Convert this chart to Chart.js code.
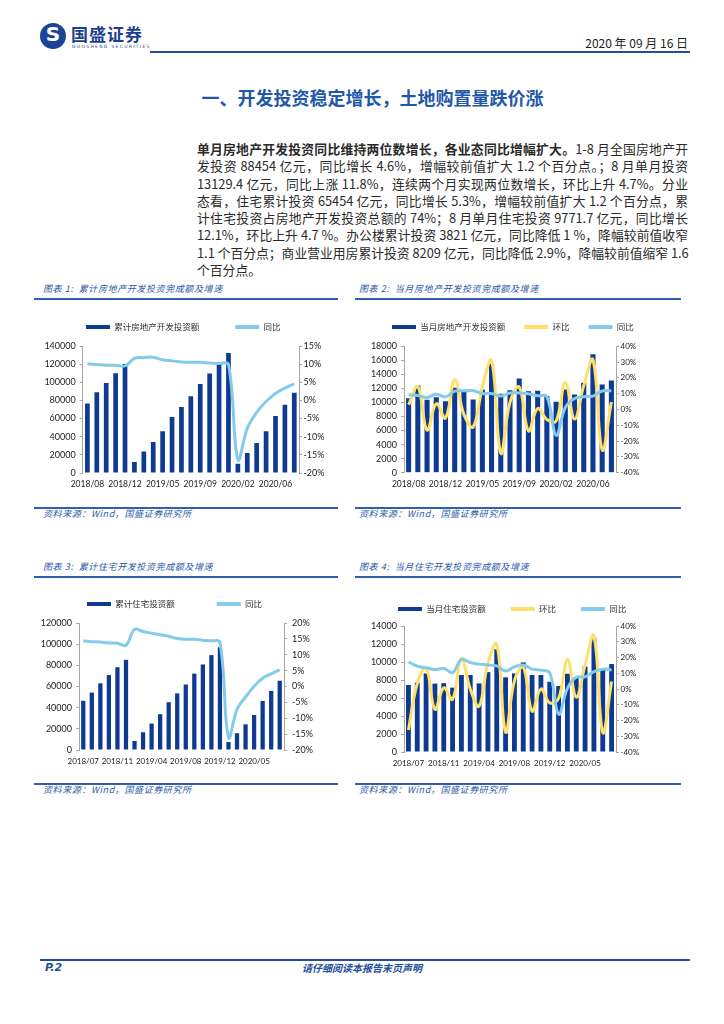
<!DOCTYPE html>
<html lang="zh-CN">
<head>
<meta charset="utf-8">
<script src="https://cdn.jsdelivr.net/npm/chart.js@4.4.1/dist/chart.umd.min.js"></script>
<style>
  body { margin: 0; background: #fff; }
  #page { position: relative; width: 724px; height: 1024px; overflow: hidden;
          font-family: "Noto Sans CJK SC", sans-serif; color: #222; }
  .abs { position: absolute; }
  .rule { position: absolute; background: #2f5fae; height: 1.5px; }
  .cap { position: absolute; font-size: 9px; letter-spacing: 0.6px; font-style: italic; color: #2a5aa8; white-space: nowrap; line-height: 12px; }
  .para { position: absolute; left: 197px; width: 491px; font-size: 12.8px; line-height: 17.3px;
          color: #2a2a2a; }
  .para div { white-space: nowrap; text-align: justify; text-align-last: justify; }
  .para div.last { text-align-last: left; }
  .box { position: absolute; }
</style>
</head>
<body>
<div id="page">
  <!-- header -->
  <div class="abs" style="left:40px;top:23px;width:26px;height:26px;border-radius:50%;background:#1c4596;"></div>
  <div class="abs" style="left:40px;top:22px;width:26px;height:26px;line-height:26px;text-align:center;color:#fff;font:bold 20px 'DejaVu Sans';">S</div>
  <div class="abs" style="left:71px;top:24px;font-size:17px;font-weight:bold;color:#1c3f8f;letter-spacing:1px;line-height:20px;">国盛证券</div>
  <div class="abs" style="left:72px;top:44px;font-size:4.5px;color:#1c3f8f;letter-spacing:1.3px;line-height:6px;font-family:'DejaVu Sans';">GUOSHENG SECURITIES</div>
  <div class="abs" style="right:36px;top:35px;font-size:12px;line-height:16px;color:#222;">2020 年 09 月 16 日</div>
  <div class="abs" style="left:150px;top:51px;width:540px;height:2px;background:#1f4e9a;"></div>
  <div class="abs" style="left:197px;top:86px;width:351px;text-align:center;font-size:18px;font-weight:bold;color:#2358a8;line-height:22px;white-space:nowrap;">一、开发投资稳定增长，土地购置量跌价涨</div>

  <!-- body text -->
  <div class="para" style="top:140px;">
    <div><b>单月房地产开发投资同比维持两位数增长，各业态同比增幅扩大。</b>1-8 月全国房地产开</div>
    <div>发投资 88454 亿元，同比增长 4.6%，增幅较前值扩大 1.2 个百分点。；8 月单月投资</div>
    <div>13129.4 亿元，同比上涨 11.8%，连续两个月实现两位数增长，环比上升 4.7%。分业</div>
    <div>态看，住宅累计投资 65454 亿元，同比增长 5.3%，增幅较前值扩大 1.2 个百分点，累</div>
    <div>计住宅投资占房地产开发投资总额的 74%；8 月单月住宅投资 9771.7 亿元，同比增长</div>
    <div>12.1%，环比上升 4.7 %。办公楼累计投资 3821 亿元，同比降低 1 %，降幅较前值收窄</div>
    <div>1.1 个百分点；商业营业用房累计投资 8209 亿元，同比降低 2.9%，降幅较前值缩窄 1.6</div>
    <div class="last">个百分点。</div>
  </div>

  <!-- chart captions -->
  <div class="cap" style="left:43px;top:283px;">图表 1:&nbsp; 累计房地产开发投资完成额及增速</div>
  <div class="rule" style="left:34px;top:298px;width:304px;"></div>
  <div class="cap" style="left:359px;top:283px;">图表 2:&nbsp; 当月房地产开发投资完成额及增速</div>
  <div class="rule" style="left:355px;top:298px;width:326px;"></div>
  <div class="rule" style="left:34px;top:507px;width:304px;"></div>
  <div class="cap" style="left:43px;top:508px;">资料来源：Wind，国盛证券研究所</div>
  <div class="rule" style="left:355px;top:507px;width:326px;"></div>
  <div class="cap" style="left:359px;top:508px;">资料来源：Wind，国盛证券研究所</div>

  <div class="cap" style="left:43px;top:561px;">图表 3:&nbsp; 累计住宅开发投资完成额及增速</div>
  <div class="rule" style="left:34px;top:576px;width:304px;"></div>
  <div class="cap" style="left:359px;top:561px;">图表 4:&nbsp; 当月住宅开发投资完成额及增速</div>
  <div class="rule" style="left:355px;top:576px;width:326px;"></div>
  <div class="rule" style="left:34px;top:783px;width:304px;"></div>
  <div class="cap" style="left:43px;top:784px;">资料来源：Wind，国盛证券研究所</div>
  <div class="rule" style="left:355px;top:783px;width:326px;"></div>
  <div class="cap" style="left:359px;top:784px;">资料来源：Wind，国盛证券研究所</div>

  <!-- charts -->
  <div class="box" style="left:40px;top:305px;width:300px;height:188px;"><canvas id="c1"></canvas></div>
  <div class="box" style="left:355px;top:305px;width:325px;height:188px;"><canvas id="c2"></canvas></div>
  <div class="box" style="left:40px;top:580px;width:300px;height:190px;"><canvas id="c3"></canvas></div>
  <div class="box" style="left:355px;top:580px;width:325px;height:192px;"><canvas id="c4"></canvas></div>

  <!-- footer -->
  <div class="abs" style="left:40px;top:959px;width:650px;height:2px;background:#1f4e9a;"></div>
  <div class="abs" style="left:45px;top:961px;font:italic bold 11px 'DejaVu Sans';color:#1f4e9a;line-height:14px;">P.2</div>
  <div class="abs" style="left:262px;top:961px;width:200px;text-align:center;font-size:10px;font-weight:bold;font-style:italic;color:#1f4e9a;line-height:14px;">请仔细阅读本报告末页声明</div>
</div>

<script>
// 月份（1、2 月合并）
var months23 = ['2018/08', '2018/09', '2018/10', '2018/11', '2018/12',
  '2019/02', '2019/03', '2019/04', '2019/05', '2019/06', '2019/07', '2019/08',
  '2019/09', '2019/10', '2019/11', '2019/12',
  '2020/02', '2020/03', '2020/04', '2020/05', '2020/06', '2020/07', '2020/08'];
var months24 = ['2018/07', '2018/08', '2018/09', '2018/10', '2018/11', '2018/12',
  '2019/02', '2019/03', '2019/04', '2019/05', '2019/06', '2019/07', '2019/08',
  '2019/09', '2019/10', '2019/11', '2019/12',
  '2020/02', '2020/03', '2020/04', '2020/05', '2020/06', '2020/07', '2020/08'];

// 图表1 累计房地产开发投资额（亿元）及同比（%）
var cumInvest = [76519, 88948, 99325, 110083, 120264,
  12090, 23803, 34217, 46075, 61609, 72843, 84589, 98008, 109603, 121265, 132194,
  10115, 21963, 33103, 45920, 62780, 75325, 88454];
var cumInvestYoy = [10.1, 9.9, 9.7, 9.7, 9.5,
  11.6, 11.8, 11.9, 11.2, 10.9, 10.6, 10.5, 10.5, 10.3, 10.2, 9.9,
  -16.3, -7.7, -3.3, -0.3, 1.9, 3.4, 4.6];

// 图表2 当月房地产开发投资额、环比、同比
var monInvest = [10600, 12430, 10380, 10760, 10180,
  12090, 11710, 10410, 11860, 15530, 11230, 11750, 13420, 11600, 11660, 10930,
  10120, 11850, 11140, 12820, 16860, 12550, 13130];
var monInvestMom = [3.0, 14.5, -13.0, 3.7, -5.4,
  18.8, -3.1, -11.1, 13.9, 31.0, -27.7, 4.6, 14.2, -13.6, 0.6, -6.3,
  -7.4, 17.1, -6.0, 15.1, 31.5, -25.6, 4.7];
var monInvestYoy = [9.2, 8.9, 7.6, 9.6, 8.0,
  11.6, 11.8, 11.9, 10.1, 10.1, 8.5, 10.5, 10.5, 10.0, 8.7, 8.2,
  -16.3, 1.2, 7.0, 8.1, 8.5, 11.7, 11.8];

// 图表3 累计住宅投资额及同比
var cumRes = [46500, 54300, 63000, 70800, 78200, 85200,
  8550, 16770, 25000, 33820, 45170, 53520, 61900, 72150, 80800, 89640, 97070,
  7510, 15850, 24250, 33100, 46350, 55870, 65454];
var cumResYoy = [14.3, 14.1, 14.0, 13.7, 13.6, 13.0,
  18.0, 17.3, 16.8, 16.3, 15.8, 15.1, 14.9, 14.9, 14.6, 14.4, 13.9,
  -16.0, -7.2, -3.3, 0.1, 2.6, 4.0, 5.3];

// 图表4 当月住宅投资额、环比、同比
var monRes = [7440, 7700, 8730, 7600, 7650, 7150,
  8550, 8550, 7620, 8880, 11420, 8300, 8730, 9950, 8550, 8550, 7800,
  7330, 8700, 8250, 9500, 12700, 9200, 9772];
var monResMom = [-26.0, 3.5, 13.4, -12.9, 0.7, -6.5,
  19.6, 0.0, -10.9, 16.5, 28.6, -27.3, 5.2, 14.0, -14.1, 0.0, -8.8,
  -6.0, 18.7, -5.2, 15.2, 33.7, -27.6, 4.7];
var monResYoy = [17.3, 14.5, 13.5, 12.4, 13.0, 10.5,
  18.7, 16.8, 15.8, 15.2, 14.7, 11.4, 14.1, 15.2, 12.6, 12.0, 10.3,
  -16.0, 0.4, 7.4, 7.8, 11.0, 12.6, 12.1];

var BLUE = '#0e3a92', LIGHT = '#84cbea', YELLOW = '#ffe06a', AXIS = '#a6a6a6';
var NUM_FONT = 'Lato';
var CJK_FONT = '"Noto Sans CJK SC"';

Chart.defaults.animation = false;
Chart.defaults.color = '#222';

// legend: fixed height, placed at a given start x / centre y
var legendFix = {
  id: 'legendFix',
  beforeUpdate: (chart) => {
    var lg = chart.legend;
    if (!lg || lg._fixed) return;
    lg._fixed = true;
    var fit = lg.fit;
    lg.fit = function () {
      fit.call(this);
      this.height = chart.options.plugins.legendFix.height;
    };
  },
  afterLayout: (chart) => {
    var o = chart.options.plugins.legendFix, lg = chart.legend;
    var pad = lg.options.labels.padding, fs = lg.options.labels.font.size;
    var dx = o.x - (lg.left + pad + lg.right - lg.lineWidths[0]) / 2;
    var dy = o.y - (lg.top + pad + fs / 2);
    // move the start point; keep the bottom so the legend clip still covers the row
    lg.left += dx; lg.right += dx; lg.top += dy;
  }
};

var barSet = (label, data, pct) => ({
  type: 'bar', label: label, data: data, backgroundColor: BLUE,
  barPercentage: pct, categoryPercentage: 1, yAxisID: 'y', order: 3
});
var lineSet = (label, data, color, order) => ({
  type: 'line', label: label, data: data, borderColor: color, backgroundColor: color,
  borderWidth: 3, pointRadius: 0, tension: 0.4, fill: false, yAxisID: 'y1', order: order
});

var makeChart = (id, cats, datasets, L) => {
  new Chart(document.getElementById(id), {
    data: { labels: cats, datasets: datasets },
    plugins: [legendFix],
    options: {
      responsive: true,
      maintainAspectRatio: false,
      layout: { padding: 0 },
      plugins: {
        tooltip: { enabled: false },
        legendFix: L.legend,
        legend: {
          position: 'top',
          labels: {
            boxWidth: 24, boxHeight: 4, padding: L.legend.gap,
            font: { family: CJK_FONT, size: 8.5 }, color: '#333',
            sort: (a, b) => a.datasetIndex - b.datasetIndex,
            generateLabels: (chart) => chart.data.datasets.map((ds, i) => ({
              text: ds.label, datasetIndex: i, hidden: false,
              fillStyle: ds.type === 'line' ? ds.borderColor : ds.backgroundColor,
              strokeStyle: 'rgba(0,0,0,0)', lineWidth: 0, fontColor: '#333'
            }))
          }
        }
      },
      scales: {
        x: {
          grid: { display: false, drawTicks: false }, border: { display: false },
          ticks: {
            autoSkip: false, maxRotation: 0, minRotation: 0, padding: 6.5,
            font: { family: NUM_FONT, size: L.xfs }, color: '#222',
            callback: (v, i) => (i % 4 === 0 ? cats[i] : '')
          },
          afterFit: (s) => { s.height = L.xh; }
        },
        y: {
          position: 'left', min: L.y[0], max: L.y[1],
          grid: { drawOnChartArea: false, drawTicks: true, tickLength: 3, color: AXIS },
          border: { display: true, color: AXIS },
          ticks: { stepSize: L.y[2], padding: 4, font: { family: NUM_FONT, size: 9 }, color: '#222',
                   callback: (v) => String(v) },
          afterFit: (s) => { s.width = L.lw; }
        },
        y1: {
          position: 'right', min: L.y1[0], max: L.y1[1],
          grid: { drawOnChartArea: false, drawTicks: true, tickLength: 3, color: AXIS },
          border: { display: true, color: AXIS },
          ticks: {
            stepSize: L.y1[2], padding: L.rpad, font: { family: NUM_FONT, size: L.rfs }, color: '#222',
            callback: (v) => v + '%'
          },
          afterFit: (s) => { s.width = L.rw; }
        }
      }
    }
  });
};

makeChart('c1', months23, [
  barSet('累计房地产开发投资额', cumInvest, 0.5),
  lineSet('同比', cumInvestYoy, LIGHT, 1)
], { lw: 42.7, rw: 41, xh: 20, xfs: 8.5, y: [0, 140000, 20000], y1: [-20, 15, 5], rpad: 1.5, rfs: 9,
     legend: { height: 41, x: 46, y: 22, gap: 36 } });

makeChart('c2', months23, [
  barSet('当月房地产开发投资额', monInvest, 0.55),
  lineSet('环比', monInvestMom, YELLOW, 2),
  lineSet('同比', monInvestYoy, LIGHT, 1)
], { lw: 49, rw: 64, xh: 20.3, xfs: 8.5, y: [0, 18000, 2000], y1: [-40, 40, 10], rpad: 1.5, rfs: 8,
     legend: { height: 41.3, x: 37, y: 22, gap: 19 } });

makeChart('c3', months24, [
  barSet('累计住宅投资额', cumRes, 0.5),
  lineSet('同比', cumResYoy, LIGHT, 1)
], { lw: 39, rw: 56, xh: 20, xfs: 8, y: [0, 120000, 20000], y1: [-20, 20, 5], rpad: 5, rfs: 9,
     legend: { height: 43, x: 47, y: 24, gap: 42 } });

makeChart('c4', months24, [
  barSet('当月住宅投资额', monRes, 0.55),
  lineSet('环比', monResMom, YELLOW, 2),
  lineSet('同比', monResYoy, LIGHT, 1)
], { lw: 49, rw: 64, xh: 20, xfs: 8, y: [0, 14000, 2000], y1: [-40, 40, 10], rpad: 1.5, rfs: 8,
     legend: { height: 46, x: 43, y: 29, gap: 25 } });
</script>
</body>
</html>
